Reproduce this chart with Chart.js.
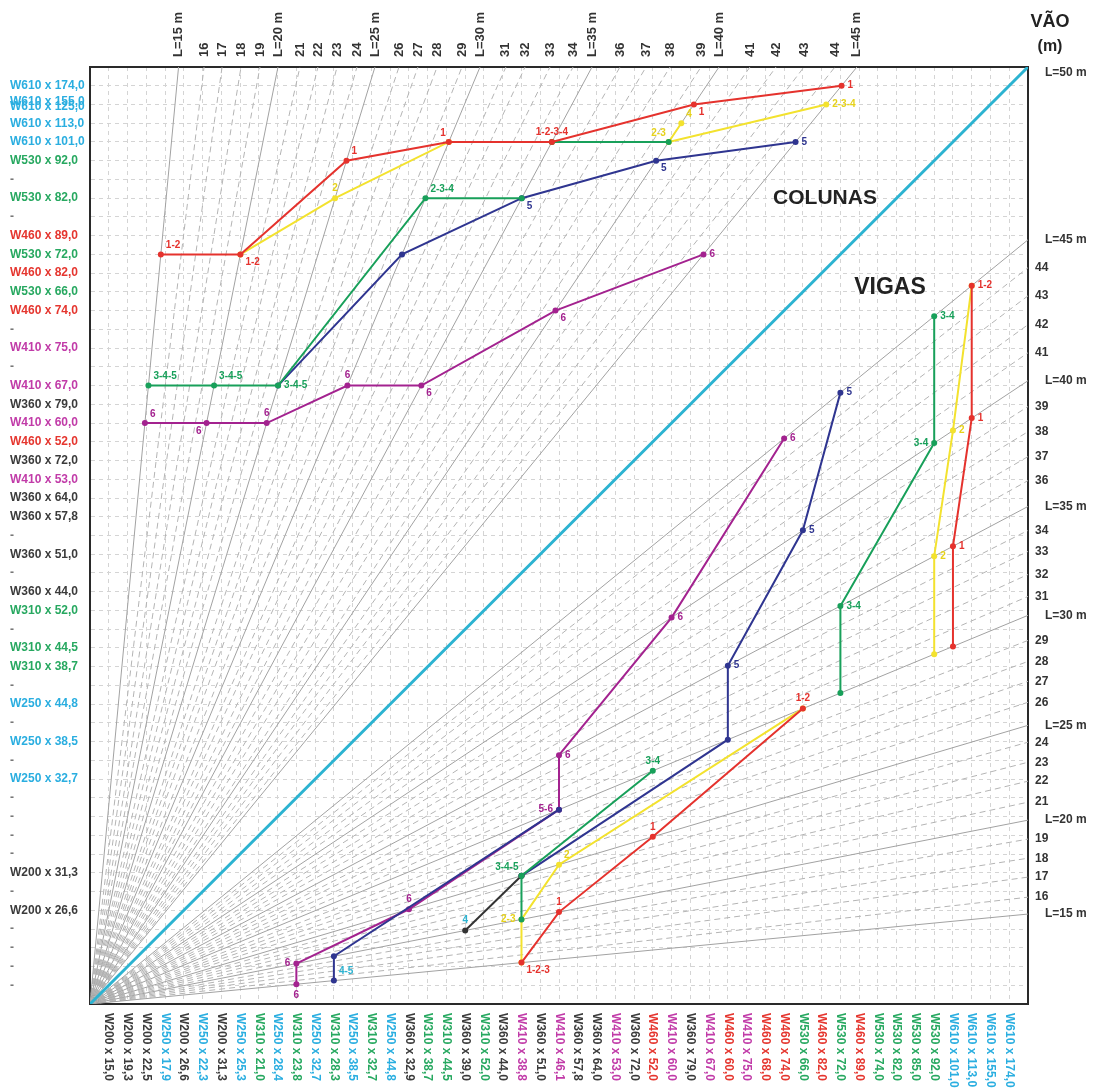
<!DOCTYPE html>
<html>
<head>
<meta charset="utf-8">
<script src="https://cdn.jsdelivr.net/npm/chart.js@4.4.1/dist/chart.umd.min.js"></script>
<style>
  html, body { margin: 0; background: #fff; }
</style>
</head>
<body>
<canvas id="nomo" width="1096" height="1090"></canvas>
<script>
// Profiles on the bottom axis (beams), positions 1..49
const beamProfiles = [
  'W200 x 15,0','W200 x 19,3','W200 x 22,5','W250 x 17,9','W200 x 26,6','W250 x 22,3','W200 x 31,3',
  'W250 x 25,3','W310 x 21,0','W250 x 28,4','W310 x 23,8','W250 x 32,7','W310 x 28,3','W250 x 38,5',
  'W310 x 32,7','W250 x 44,8','W360 x 32,9','W310 x 38,7','W310 x 44,5','W360 x 39,0','W310 x 52,0',
  'W360 x 44,0','W410 x 38,8','W360 x 51,0','W410 x 46,1','W360 x 57,8','W360 x 64,0','W410 x 53,0',
  'W360 x 72,0','W460 x 52,0','W410 x 60,0','W360 x 79,0','W410 x 67,0','W460 x 60,0','W410 x 75,0',
  'W460 x 68,0','W460 x 74,0','W530 x 66,0','W460 x 82,0','W530 x 72,0','W460 x 89,0','W530 x 74,0',
  'W530 x 82,0','W530 x 85,0','W530 x 92,0','W610 x 101,0','W610 x 113,0','W610 x 155,0','W610 x 174,0'
];

// Profiles on the left axis (columns), rows 1..49 from bottom to top
const columnProfiles = [
  '-','-','-','-','W200 x 26,6','-','W200 x 31,3','-','-','-','-','W250 x 32,7','-','W250 x 38,5','-',
  'W250 x 44,8','-','W310 x 38,7','W310 x 44,5','-','W310 x 52,0','W360 x 44,0','-','W360 x 51,0','-',
  'W360 x 57,8','W360 x 64,0','W410 x 53,0','W360 x 72,0','W460 x 52,0','W410 x 60,0','W360 x 79,0',
  'W410 x 67,0','-','W410 x 75,0','-','W460 x 74,0','W530 x 66,0','W460 x 82,0','W530 x 72,0',
  'W460 x 89,0','-','W530 x 82,0','-','W530 x 92,0','W610 x 101,0','W610 x 113,0',
  ['W610 x 155,0','W610 x 125,0'],'W610 x 174,0'
];

// Span lines (m) and where each one meets the top edge (columns) and the right edge (beams)
const spans = [15,16,17,18,19,20,21,22,23,24,25,26,27,28,29,30,31,32,33,34,35,36,37,38,39,40,41,42,43,44,45];
const topEdge = [4.72,6.08,7.04,8.05,9.06,10.02,11.19,12.15,13.17,14.23,15.19,16.47,17.48,18.5,19.83,20.79,
  22.17,23.19,24.52,25.75,26.76,28.25,29.64,30.92,32.57,33.53,35.18,36.57,38.06,39.71,40.88];
const rightEdge = [4.80,5.70,6.77,7.78,8.80,9.81,10.77,11.89,12.90,13.97,14.87,16.10,17.22,18.28,19.40,20.74,
  21.75,22.92,24.15,25.27,26.55,27.93,29.21,30.54,31.88,33.26,34.75,36.25,37.79,39.29,40.78];

// COLUMNS: span and profile row for each case
const colRedSpan = [15,20,25,30,35,40,45];
const colRedRow  = [40,40,45,46,46,48,49];
const colRedTag  = ['1-2','1-2','1','1','1-2-3-4','1','1'];
const colYellowSpan = [20,25,30,35,40,45];
const colYellowRow  = [40,43,46,46,46,48];
const colYellowTag  = ['','2','','','2-3','2-3-4'];
const colYellow4Span = [40,40];
const colYellow4Row  = [46,47];
const colYellow4Tag  = ['','4'];
const colGreenSpan = [15,20,25,30,35];
const colGreenRow  = [33,33,33,43,43];
const colGreenTag  = ['3-4-5','3-4-5','3-4-5','2-3-4',''];
const colGreen2Span = [35,40];
const colGreen2Row  = [46,46];
const colBlueSpan = [25,30,35,40,45];
const colBlueRow  = [33,40,43,45,46];
const colBlueTag  = ['','','5','5','5'];
const colPurpleSpan = [15,20,25,30,35,40,45];
const colPurpleRow  = [31,31,31,33,33,37,40];
const colPurpleTag  = ['6','6','6','6','6','6','6'];

// BEAMS: span and profile column for each case
const beamRedSpan = [15,20,25,30];
const beamRedCol  = [23,25,30,38];
const beamRedTag  = ['1-2-3','1','1','1-2'];
const beamRed2Span = [30,35,40,45];
const beamRed2Col  = [46,46,47,47];
const beamRed2Tag  = ['','1','1','1-2'];
const beamYellowSpan = [15,20,25,30];
const beamYellowCol  = [23,23,25,38];
const beamYellowTag  = ['','2-3','2',''];
const beamYellow2Span = [30,35,40,45];
const beamYellow2Col  = [45,45,46,47];
const beamYellow2Tag  = ['','2','2',''];
const beamGreenSpan = [20,25,30];
const beamGreenCol  = [23,23,30];
const beamGreenTag  = ['','3-4-5','3-4'];
const beamGreen2Span = [30,35,40,45];
const beamGreen2Col  = [40,40,45,45];
const beamGreen2Tag  = ['','3-4','3-4','3-4'];
const beamBlackSpan = [20,25];
const beamBlackCol  = [20,23];
const beamBlackTag  = ['4',''];
const beamBlueSpan = [15,20,30];
const beamBlueCol  = [13,13,25];
const beamBlueTag  = ['4-5','',''];
const beamBlue2Span = [25,30,35,40,45];
const beamBlue2Col  = [23,34,34,38,40];
const beamBlue2Tag  = ['','','5','5','5'];
const beamPurpleSpan = [15,20,25,30,35,40,45];
const beamPurpleCol  = [11,11,17,25,25,31,37];
const beamPurpleTag  = ['6','6','6','5-6','6','6','6'];

// label placement for tags (style only)
const colRedPos = ['ne','se','ne','nw','n','se','e'];
const colYellowPos = ['e','n','e','e','nw','e'];
const colYellow4Pos = ['e','ne'];
const colGreenPos = ['ne','ne','e','ne','e'];
const colBluePos = ['e','e','se','se','e'];
const colPurplePos = ['ne','sw','n','n','se','se','e'];
const beamRedPos = ['se','n','n','n'];
const beamRed2Pos = ['e','e','e','e'];
const beamYellowPos = ['e','w','ne','e'];
const beamYellow2Pos = ['e','e','e','e'];
const beamGreenPos = ['e','nw','n'];
const beamGreen2Pos = ['e','e','w','e'];
const beamBlackPos = ['n','e'];
const beamBluePos = ['ne','e','e'];
const beamBlue2Pos = ['e','e','e','e','e'];
const beamPurplePos = ['s','w','n','w','e','e','e'];

const FONT = '"Liberation Sans", Arial, sans-serif';
const familyColor = {
  W200: '#3b3b3b', W250: '#2aaee0', W310: '#27a860', W360: '#3b3b3b',
  W410: '#c13ba8', W460: '#e5362f', W530: '#27a860', W610: '#2aaee0'
};
const RED = '#e5322d', YELLOW = '#f3e22e', GREEN = '#18a05a', BLUE = '#2f3590',
      PURPLE = '#a3228f', BLACK = '#333333', CYAN = '#2cb3d1';

function labelColor(label) {
  const s = Array.isArray(label) ? label[0] : label;
  return familyColor[s.slice(0, 4)] || '#777';
}
function rowLabel(c) {
  const v = c && c.tick ? c.tick.value : 0;
  return (v >= 1 && v <= 49) ? columnProfiles[v - 1] : '';
}
function spanText(L) {
  return L % 5 === 0 ? 'L=' + L + ' m' : String(L);
}
function colPoints(spanArr, rowArr) {
  return spanArr.map((L, i) => ({ x: topEdge[spans.indexOf(L)] * rowArr[i] / 50, y: rowArr[i] }));
}
function beamPoints(spanArr, colArr) {
  return colArr.map((c, i) => ({ x: c, y: rightEdge[spans.indexOf(spanArr[i])] * c / 50 }));
}
function series(points, color, tags, pos, tagColor, order) {
  return {
    data: points, borderColor: color, backgroundColor: color, borderWidth: 2,
    pointRadius: 3, pointBorderWidth: 0, pointBackgroundColor: color,
    tags: tags || [], pos: pos || [], tagColor: tagColor || color, order: order || 1, clip: false
  };
}

const datasets = [];
// radial span lines
spans.forEach((L, i) => {
  const dash = L % 5 === 0 ? [] : [6, 4];
  const color = L % 5 === 0 ? '#a2a2a2' : '#b4b4b4';
  datasets.push({ data: [{x: 0, y: 0}, {x: 50, y: rightEdge[i]}], borderColor: color, borderWidth: 1,
    borderDash: dash, pointRadius: 0, order: 20 });
  datasets.push({ data: [{x: 0, y: 0}, {x: topEdge[i], y: 50}], borderColor: color, borderWidth: 1,
    borderDash: dash, pointRadius: 0, order: 20 });
});
// L = 50 m diagonal
datasets.push({ data: [{x: 0, y: 0}, {x: 50, y: 50}], borderColor: CYAN, borderWidth: 3, pointRadius: 0, order: 10 });

// columns
datasets.push(series(colPoints(colRedSpan, colRedRow), RED, colRedTag, colRedPos));
datasets.push(series(colPoints(colYellowSpan, colYellowRow), YELLOW, colYellowTag, colYellowPos, '#e6d21a', 2));
datasets.push(series(colPoints(colYellow4Span, colYellow4Row), YELLOW, colYellow4Tag, colYellow4Pos, '#e6d21a', 2));
datasets.push(series(colPoints(colGreenSpan, colGreenRow), GREEN, colGreenTag, colGreenPos));
datasets.push(series(colPoints(colGreen2Span, colGreen2Row), GREEN));
datasets.push(series(colPoints(colBlueSpan, colBlueRow), BLUE, colBlueTag, colBluePos));
datasets.push(series(colPoints(colPurpleSpan, colPurpleRow), PURPLE, colPurpleTag, colPurplePos));
// beams
datasets.push(series(beamPoints(beamRedSpan, beamRedCol), RED, beamRedTag, beamRedPos));
datasets.push(series(beamPoints(beamRed2Span, beamRed2Col), RED, beamRed2Tag, beamRed2Pos));
datasets.push(series(beamPoints(beamYellowSpan, beamYellowCol), YELLOW, beamYellowTag, beamYellowPos, '#e6d21a', 2));
datasets.push(series(beamPoints(beamYellow2Span, beamYellow2Col), YELLOW, beamYellow2Tag, beamYellow2Pos, '#e6d21a', 2));
datasets.push(series(beamPoints(beamGreenSpan, beamGreenCol), GREEN, beamGreenTag, beamGreenPos));
datasets.push(series(beamPoints(beamGreen2Span, beamGreen2Col), GREEN, beamGreen2Tag, beamGreen2Pos));
datasets.push(series(beamPoints(beamBlackSpan, beamBlackCol), BLACK, beamBlackTag, beamBlackPos, CYAN));
datasets.push(series(beamPoints(beamBlueSpan, beamBlueCol), BLUE, beamBlueTag, beamBluePos, CYAN));
datasets.push(series(beamPoints(beamBlue2Span, beamBlue2Col), BLUE, beamBlue2Tag, beamBlue2Pos));
datasets.push(series(beamPoints(beamPurpleSpan, beamPurpleCol), PURPLE, beamPurpleTag, beamPurplePos));

const tagOffsets = {
  e: [6, 0, 'left'], w: [-6, 0, 'right'], n: [0, -10, 'center'], s: [0, 11, 'center'],
  ne: [5, -9, 'left'], se: [5, 8, 'left'], nw: [-3, -9, 'right'], sw: [-5, 8, 'right']
};

const overlay = {
  id: 'overlay',
  afterDatasetsDraw(chart) {
    const ctx = chart.ctx;
    ctx.save();
    ctx.font = 'bold 10px ' + FONT;
    ctx.textBaseline = 'middle';
    chart.data.datasets.forEach((ds, i) => {
      if (!ds.tags || !ds.tags.length) return;
      const meta = chart.getDatasetMeta(i);
      meta.data.forEach((pt, j) => {
        const t = ds.tags[j];
        if (!t) return;
        const o = tagOffsets[ds.pos[j] || 'e'];
        ctx.fillStyle = ds.tagColor;
        ctx.textAlign = o[2];
        ctx.fillText(t, pt.x + o[0], pt.y + o[1]);
      });
    });
    ctx.restore();
  },
  afterDraw(chart) {
    const ctx = chart.ctx;
    const xs = chart.scales.x;
    const area = chart.chartArea;
    ctx.save();
    ctx.textBaseline = 'middle';
    ctx.textAlign = 'left';
    // bottom profile names, read top to bottom
    ctx.font = 'bold 12px ' + FONT;
    beamProfiles.forEach((p, i) => {
      ctx.save();
      ctx.translate(xs.getPixelForValue(i + 1), area.bottom + 9);
      ctx.rotate(Math.PI / 2);
      ctx.fillStyle = labelColor(p);
      ctx.fillText(p, 0, 0);
      ctx.restore();
    });
    // top span names, read bottom to top, centred on each line end
    ctx.font = 'bold 13px ' + FONT;
    ctx.fillStyle = '#333';
    spans.forEach((L, i) => {
      ctx.save();
      ctx.translate(xs.getPixelForValue(topEdge[i]), area.top - 10);
      ctx.rotate(-Math.PI / 2);
      ctx.fillText(spanText(L), 0, 0);
      ctx.restore();
    });
    // titles
    ctx.fillStyle = '#222';
    ctx.textAlign = 'center';
    ctx.font = 'bold 21px ' + FONT;
    ctx.fillText('COLUNAS', 825, 198);
    ctx.font = 'bold 23px ' + FONT;
    ctx.fillText('VIGAS', 890, 288);
    ctx.font = 'bold 18px ' + FONT;
    ctx.fillText('VÃO', 1050, 22);
    ctx.font = 'bold 16px ' + FONT;
    ctx.fillText('(m)', 1050, 47);
    ctx.restore();
  }
};

const gridColor = c => (c && c.tick && c.tick.value > 0 && c.tick.value < 50) ? '#d4d4d4' : 'rgba(0,0,0,0)';

new Chart(document.getElementById('nomo'), {
  type: 'line',
  data: { datasets: datasets },
  plugins: [overlay],
  options: {
    responsive: false,
    animation: false,
    layout: { padding: { left: 10, right: 0, top: 0, bottom: 0 } },
    plugins: { legend: { display: false }, tooltip: { enabled: false } },
    scales: {
      x: {
        type: 'linear', position: 'bottom', min: 0, max: 50,
        afterFit: s => { s.height = 86; },
        ticks: { stepSize: 1, maxTicksLimit: 60, display: false },
        grid: { color: gridColor, lineWidth: 1, drawTicks: false },
        border: { display: true, color: '#2a2a2a', width: 2, dash: [4, 4] }
      },
      xTop: {
        type: 'linear', position: 'top', min: 0, max: 50,
        afterFit: s => { s.height = 67; },
        ticks: { display: false },
        grid: { display: false, drawTicks: false },
        border: { display: true, color: '#2a2a2a', width: 2 }
      },
      y: {
        type: 'linear', position: 'left', min: 0, max: 50,
        afterFit: s => { s.width = 80; },
        ticks: {
          stepSize: 1, maxTicksLimit: 60, autoSkip: false, crossAlign: 'far', padding: 4,
          callback: v => (v >= 1 && v <= 49) ? columnProfiles[v - 1] : '',
          color: c => { const l = rowLabel(c); return l ? labelColor(l) : '#777'; },
          font: c => ({ family: FONT, size: 12, weight: 'bold',
            lineHeight: Array.isArray(rowLabel(c)) ? 0.45 : 1.2 })
        },
        grid: { color: gridColor, lineWidth: 1, drawTicks: false },
        border: { display: true, color: '#2a2a2a', width: 2, dash: [4, 4] }
      },
      yRight: {
        type: 'linear', position: 'right', min: 0, max: 50,
        afterFit: s => { s.width = 68; },
        afterBuildTicks: s => { s.ticks = rightEdge.concat([49.7]).map(v => ({ value: v })); },
        ticks: {
          autoSkip: false, padding: 7, color: '#333', font: { family: FONT, size: 12, weight: 'bold' },
          callback: (v, i) => {
            const L = i < spans.length ? spans[i] : 50;
            return L % 5 === 0 ? '   ' + spanText(L) : spanText(L);
          }
        },
        grid: { display: false, drawTicks: false },
        border: { display: true, color: '#2a2a2a', width: 2 }
      }
    }
  }
});
</script>
</body>
</html>
